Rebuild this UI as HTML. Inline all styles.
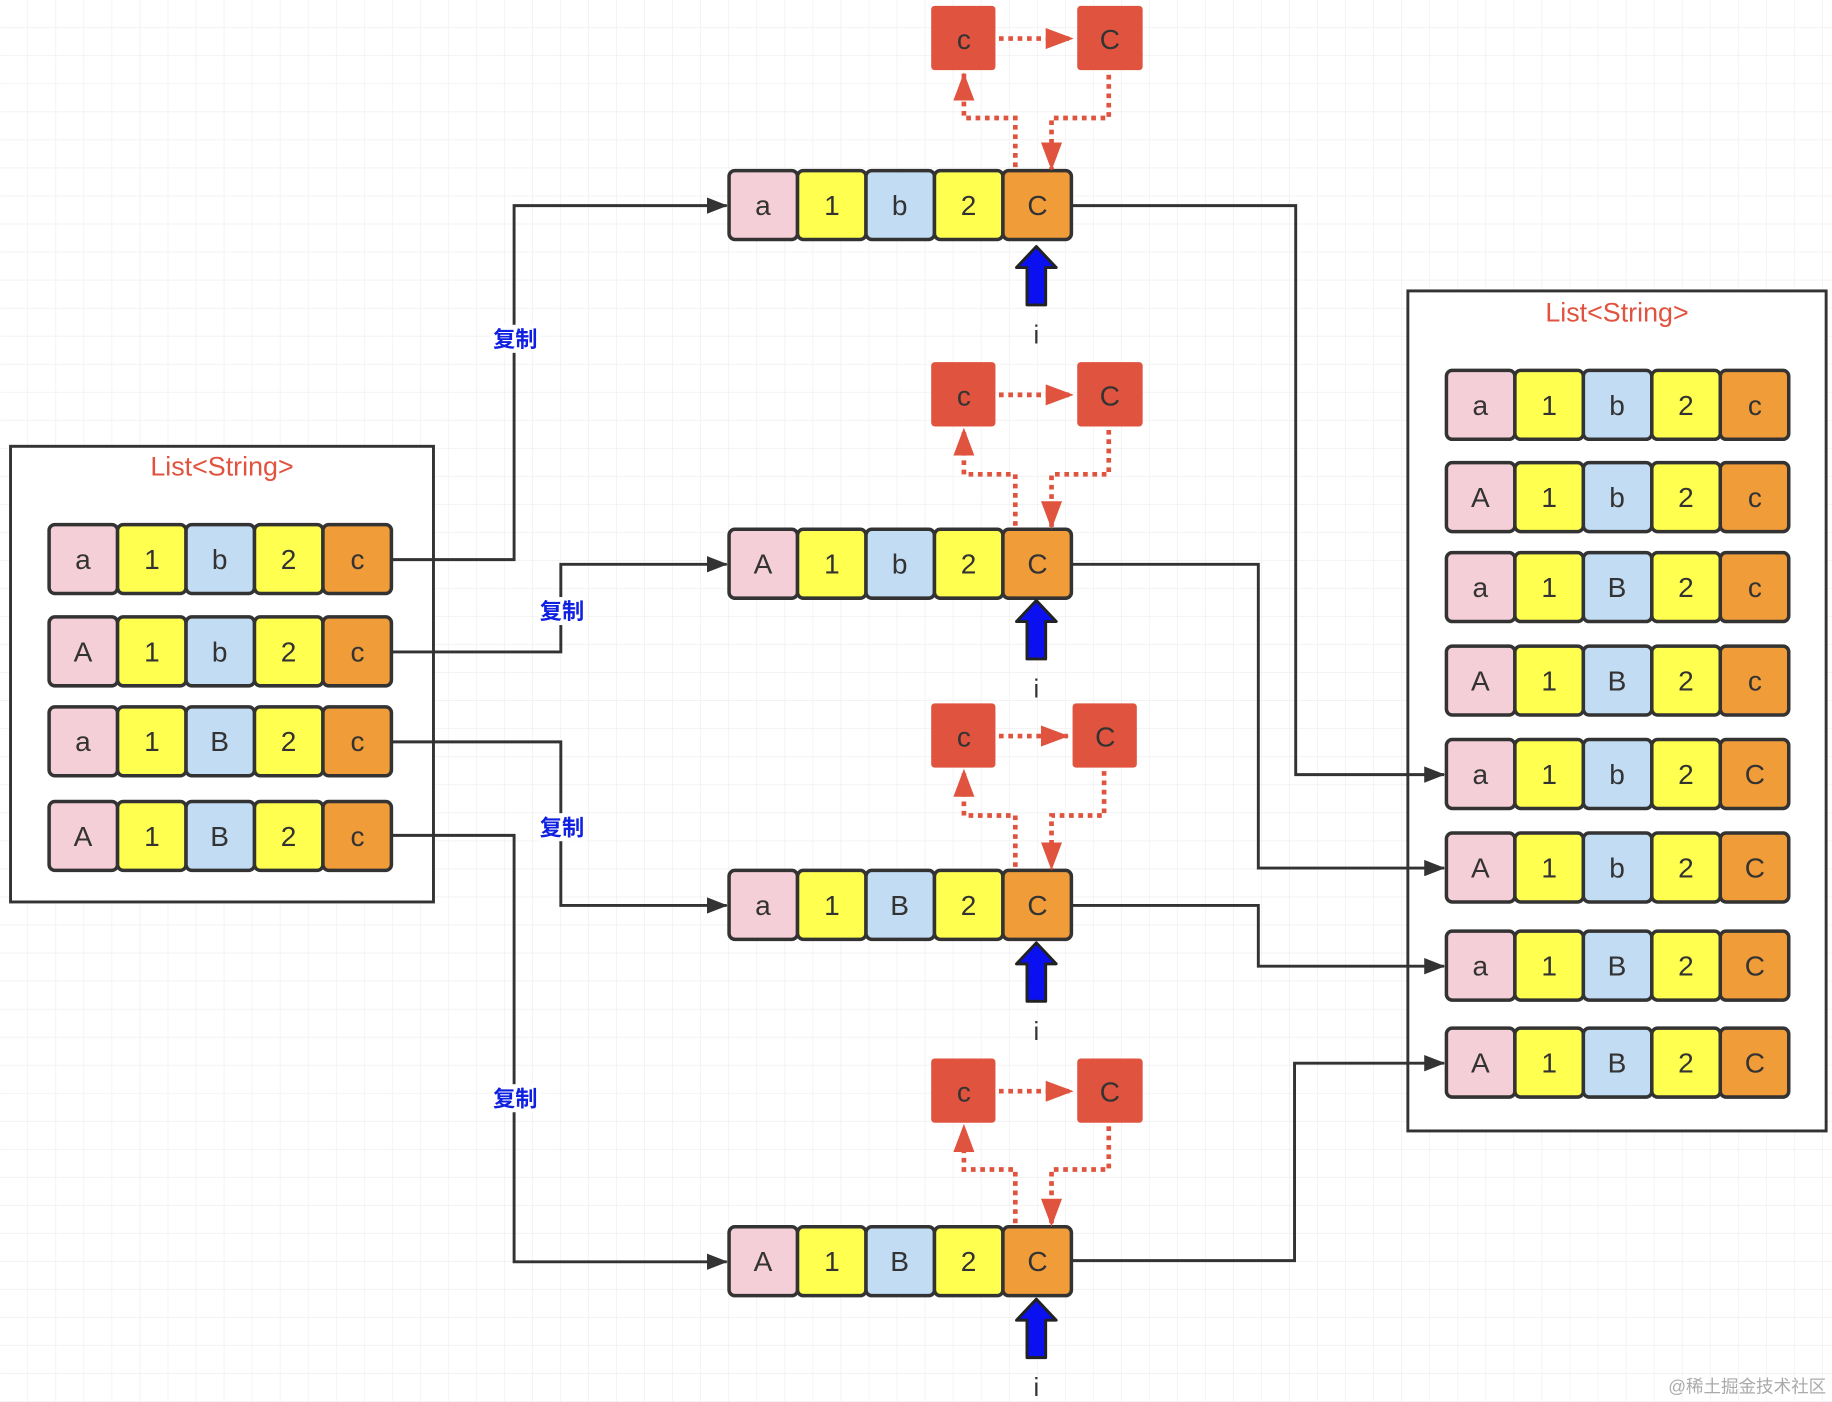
<!DOCTYPE html>
<html><head><meta charset="utf-8"><style>
html,body{margin:0;padding:0;background:#fff;}
svg{display:block;}
text{font-family:"Liberation Sans","Noto Sans CJK SC",sans-serif;}
</style></head><body>
<svg width="1832" height="1402" viewBox="0 0 1568 1200" xmlns="http://www.w3.org/2000/svg">
<defs>
<pattern id="g" width="24" height="24" patternUnits="userSpaceOnUse">
<path d="M24 0V24M0 24H24" stroke="#ececec" stroke-width="1" fill="none"/>
</pattern>
<g id="rb">
<rect x="0" y="0" width="58.6" height="59" rx="5" fill="#f5cfd7" stroke="#333" stroke-width="3"/>
<rect x="58.6" y="0" width="58.6" height="59" rx="5" fill="#ffff4f" stroke="#333" stroke-width="3"/>
<rect x="117.2" y="0" width="58.6" height="59" rx="5" fill="#c2dcf4" stroke="#333" stroke-width="3"/>
<rect x="175.8" y="0" width="58.6" height="59" rx="5" fill="#ffff4f" stroke="#333" stroke-width="3"/>
<rect x="234.4" y="0" width="58.6" height="59" rx="5" fill="#f09c38" stroke="#333" stroke-width="3"/>
</g>
<marker id="ah" markerWidth="18" markerHeight="14" refX="17" refY="7" orient="auto" markerUnits="userSpaceOnUse" viewBox="0 0 18 14">
<path d="M0 0L18 7L0 14z" fill="#333"/>
</marker>
<marker id="rh" markerWidth="24" markerHeight="18" refX="23" refY="9" orient="auto" markerUnits="userSpaceOnUse" viewBox="0 0 24 18">
<path d="M0 0L24 9L0 18z" fill="#e0533e"/>
</marker>
<g id="bl">
<path d="M887 211L904 229L895 229L895 261L879 261L879 229L870 229Z" fill="#0a10f0" stroke="#222" stroke-width="2.5" stroke-linejoin="round"/>
</g>
</defs>
<rect width="1568" height="1200" fill="#fff"/>
<rect width="1568" height="1200" fill="url(#g)"/>

<rect x="9" y="382" width="362" height="390" fill="#fff" stroke="#333" stroke-width="2.5"/>
<text x="190" y="407" font-size="23" fill="#e0533e" text-anchor="middle">List&lt;String&gt;</text>
<rect x="1205" y="249" width="358" height="719" fill="#fff" stroke="#333" stroke-width="2.5"/>
<text x="1384" y="275" font-size="23" fill="#e0533e" text-anchor="middle">List&lt;String&gt;</text>

<g fill="none" stroke="#333" stroke-width="2.5">
<path d="M335 479H440V176H622" marker-end="url(#ah)"/>
<path d="M335 558H480V483H622" marker-end="url(#ah)"/>
<path d="M335 635H480V775H622" marker-end="url(#ah)"/>
<path d="M335 715H440V1080H622" marker-end="url(#ah)"/>
<path d="M917 176H1109V663H1236" marker-end="url(#ah)"/>
<path d="M917 483H1077V743H1236" marker-end="url(#ah)"/>
<path d="M917 775H1077V827H1236" marker-end="url(#ah)"/>
<path d="M917 1079H1108V910H1236" marker-end="url(#ah)"/>
</g>
<g font-size="19" fill="#1020e0" text-anchor="middle" font-weight="bold">
<rect x="420" y="278" width="42" height="24" fill="#fff"/><text x="441" y="297">复制</text>
<rect x="460" y="511" width="42" height="24" fill="#fff"/><text x="481" y="530">复制</text>
<rect x="460" y="696" width="42" height="24" fill="#fff"/><text x="481" y="715">复制</text>
<rect x="420" y="928" width="42" height="24" fill="#fff"/><text x="441" y="947">复制</text>
</g>

<use href="#rb" x="42" y="449"/><use href="#rb" x="42" y="528"/><use href="#rb" x="42" y="605"/><use href="#rb" x="42" y="686"/>
<use href="#rb" x="624" y="146"/><use href="#rb" x="624" y="453"/><use href="#rb" x="624" y="745"/><use href="#rb" x="624" y="1050"/>
<use href="#rb" x="1238" y="317"/><use href="#rb" x="1238" y="396"/><use href="#rb" x="1238" y="473"/><use href="#rb" x="1238" y="553"/>
<use href="#rb" x="1238" y="633"/><use href="#rb" x="1238" y="713"/><use href="#rb" x="1238" y="797"/><use href="#rb" x="1238" y="880"/>

<g font-size="24" fill="#333" text-anchor="middle">
<text x="71 130 188 247 306" y="487">a1b2c</text>
<text x="71 130 188 247 306" y="566">A1b2c</text>
<text x="71 130 188 247 306" y="643">a1B2c</text>
<text x="71 130 188 247 306" y="724">A1B2c</text>
<text x="653 712 770 829 888" y="184">a1b2C</text>
<text x="653 712 770 829 888" y="491">A1b2C</text>
<text x="653 712 770 829 888" y="783">a1B2C</text>
<text x="653 712 770 829 888" y="1088">A1B2C</text>
<text x="1267 1326 1384 1443 1502" y="355">a1b2c</text>
<text x="1267 1326 1384 1443 1502" y="434">A1b2c</text>
<text x="1267 1326 1384 1443 1502" y="511">a1B2c</text>
<text x="1267 1326 1384 1443 1502" y="591">A1B2c</text>
<text x="1267 1326 1384 1443 1502" y="671">a1b2C</text>
<text x="1267 1326 1384 1443 1502" y="751">A1b2C</text>
<text x="1267 1326 1384 1443 1502" y="835">a1B2C</text>
<text x="1267 1326 1384 1443 1502" y="918">A1B2C</text>
</g>

<g fill="none" stroke="#e0533e" stroke-width="4" stroke-dasharray="4 4">
<path d="M855 33H918" marker-end="url(#rh)"/>
<path d="M869 143V101H825V63" marker-end="url(#rh)"/>
<path d="M949 64V101H900V145" marker-end="url(#rh)"/>
<path d="M855 338H918" marker-end="url(#rh)"/>
<path d="M869 450V406H825V367" marker-end="url(#rh)"/>
<path d="M949 368V406H900V452" marker-end="url(#rh)"/>
<path d="M855 630H914" marker-end="url(#rh)"/>
<path d="M869 742V698H825V659" marker-end="url(#rh)"/>
<path d="M945 660V698H900V744" marker-end="url(#rh)"/>
<path d="M855 934H918" marker-end="url(#rh)"/>
<path d="M869 1047V1001H825V963" marker-end="url(#rh)"/>
<path d="M949 964V1001H900V1049" marker-end="url(#rh)"/>
</g>
<g fill="#e0533e">
<rect x="797" y="5" width="55" height="55" rx="3"/><rect x="922" y="5" width="56" height="55" rx="3"/>
<rect x="797" y="310" width="55" height="55" rx="3"/><rect x="922" y="310" width="56" height="55" rx="3"/>
<rect x="797" y="602" width="55" height="55" rx="3"/><rect x="918" y="602" width="55" height="55" rx="3"/>
<rect x="797" y="906" width="55" height="55" rx="3"/><rect x="922" y="906" width="56" height="55" rx="3"/>
</g>
<g font-size="24" fill="#333" text-anchor="middle">
<text x="825" y="42">c</text><text x="950" y="42">C</text>
<text x="825" y="347">c</text><text x="950" y="347">C</text>
<text x="825" y="639">c</text><text x="946" y="639">C</text>
<text x="825" y="943">c</text><text x="950" y="943">C</text>
</g>

<use href="#bl" x="0" y="0"/><use href="#bl" x="0" y="303"/><use href="#bl" x="0" y="596"/><use href="#bl" x="0" y="901"/>
<g font-size="22" fill="#333" text-anchor="middle">
<text x="887" y="294">i</text><text x="887" y="597">i</text><text x="887" y="890">i</text><text x="887" y="1195">i</text>
</g>

<text x="1563" y="1192" font-size="15" fill="#aaa" text-anchor="end">@稀土掘金技术社区</text>
</svg>
</body></html>
